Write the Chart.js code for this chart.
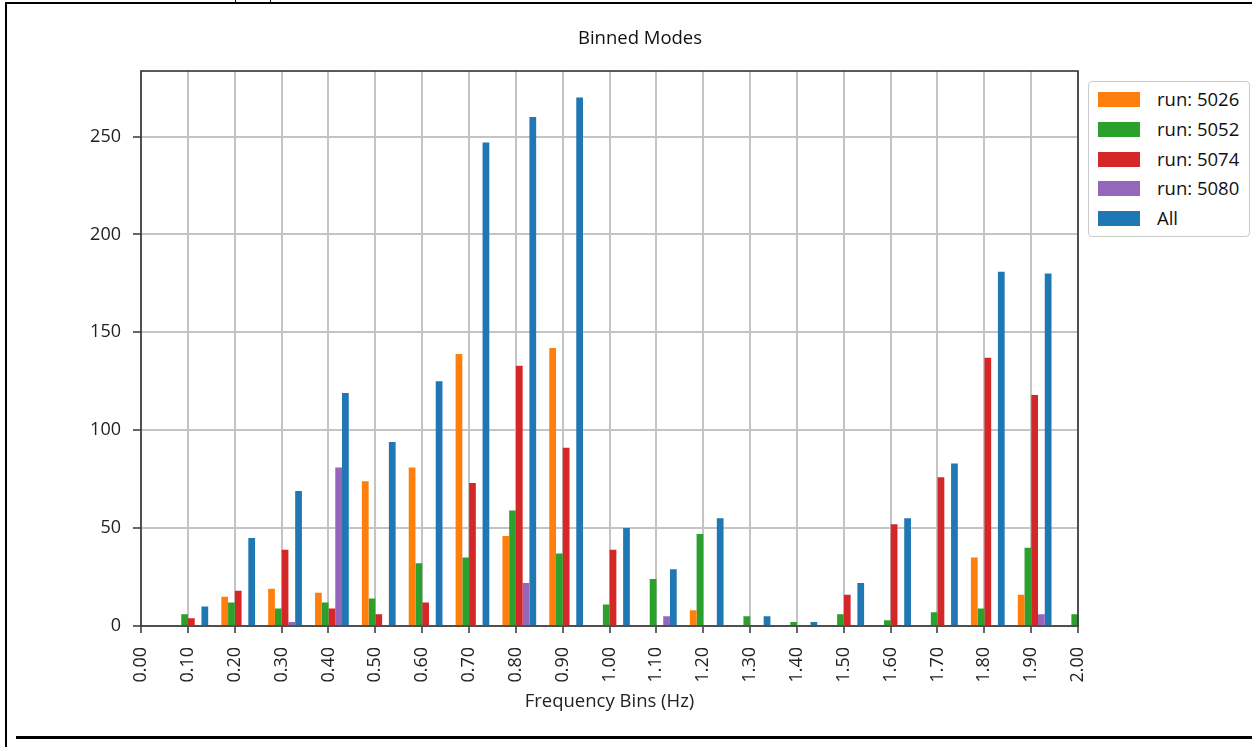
<!DOCTYPE html>
<html>
<head>
<meta charset="utf-8">
<title>Binned Modes</title>
<script src="https://cdn.jsdelivr.net/npm/chart.js@4.4.1/dist/chart.umd.min.js"></script>
<style>
    html, body { margin: 0; padding: 0; background: #fff; }
    body { width: 1252px; height: 747px; position: relative; overflow: hidden; font-family: 'Open Sans', sans-serif; }
    canvas { position: absolute; left: 0; top: 0; }
    .rule { position: absolute; background: #000; }
    #title { position: absolute; left: 0; top: 25px; width: 1280px; text-align: center; font-size: 18.5px; line-height: 24px; color: #111; }
    #legend { position: absolute; left: 1088px; top: 81px; width: 162px; height: 156px; box-sizing: border-box;
              border: 1px solid #ccc; border-radius: 4px; background: #fff; }
    .item { position: absolute; left: 0; height: 20px; width: 160px; }
    .swatch { position: absolute; left: 9px; top: 2px; width: 42px; height: 15px; }
    .label { position: absolute; left: 68px; top: -3px; font-size: 18.5px; line-height: 24px; color: #111; white-space: nowrap; }
</style>
</head>
<body>
<div class="rule" style="left:5px; top:2px; width:1247px; height:2px;"></div>
<div class="rule" style="left:5px; top:2px; width:2px; height:745px;"></div>
<div class="rule" style="left:16px; top:736px; width:1236px; height:3px;"></div>
<div class="rule" style="left:235px; top:0; width:1px; height:3px;"></div>
<div class="rule" style="left:270px; top:0; width:1px; height:3px;"></div>

<canvas id="modesChart" width="1252" height="747"></canvas>
<div id="title">Binned Modes</div>
<div id="legend"></div>

<script>
// frequency bins (Hz), one group of bars per tick
const binLabels = ['0.00', '0.10', '0.20', '0.30', '0.40', '0.50', '0.60', '0.70', '0.80', '0.90', '1.00',
                   '1.10', '1.20', '1.30', '1.40', '1.50', '1.60', '1.70', '1.80', '1.90', '2.00'];

// mode counts per bin
const run5026 = [0, 0, 15, 19, 17, 74, 81, 139, 46, 142, 0, 0, 8, 0, 0, 0, 0, 0, 35, 16, 0];
const run5052 = [0, 6, 12, 9, 12, 14, 32, 35, 59, 37, 11, 24, 47, 5, 2, 6, 3, 7, 9, 40, 6];
const run5074 = [0, 4, 18, 39, 9, 6, 12, 73, 133, 91, 39, 0, 0, 0, 0, 16, 52, 76, 137, 118, 0];
const run5080 = [0, 0, 0, 2, 81, 0, 0, 0, 22, 0, 0, 5, 0, 0, 0, 0, 0, 0, 0, 6, 0];
const allRuns = [0, 10, 45, 69, 119, 94, 125, 247, 260, 270, 50, 29, 55, 5, 2, 22, 55, 83, 181, 180, 6];

const seriesNames = ['run: 5026', 'run: 5052', 'run: 5074', 'run: 5080', 'All'];
const seriesColors = ['#ff7f0e', '#2ca02c', '#d62728', '#9467bd', '#1f77b4'];
const seriesValues = [run5026, run5052, run5074, run5080, allRuns];

const yTop = 283.5;
const yStep = 50;

const font = 'Open Sans';
const textColor = '#222';

// bar groups sit a little right of their tick in the original, then a black box round the plot area
const frame = {
    id: 'frame',
    beforeDatasetsDraw(chart) {
        chart.ctx.save();
        chart.ctx.translate(3.5, 0);
    },
    afterDatasetsDraw(chart) {
        const { ctx, chartArea: a } = chart;
        ctx.restore();
        ctx.save();
        ctx.strokeStyle = '#333';
        ctx.lineWidth = 1.6;
        ctx.strokeRect(a.left, a.top, a.right - a.left, a.bottom - a.top);
        ctx.restore();
    }
};

const chart = new Chart(document.getElementById('modesChart'), {
    type: 'bar',
    data: {
        labels: binLabels,
        datasets: seriesNames.map((name, i) => ({
            label: name,
            data: seriesValues[i],
            backgroundColor: seriesColors[i],
            borderWidth: 0,
            barPercentage: 1.0,
            categoryPercentage: 0.72,
            clip: 0
        }))
    },
    options: {
        responsive: false,
        animation: false,
        devicePixelRatio: 1,
        layout: { padding: { left: 0, right: 174, top: 71, bottom: 30 } },
        plugins: {
            legend: { display: false },
            title: { display: false },
            tooltip: { enabled: false }
        },
        scales: {
            x: {
                offset: false,
                grid: {
                    offset: false,
                    color: '#c4c4c4',
                    lineWidth: 2,
                    tickColor: '#333',
                    tickWidth: 1.5,
                    tickLength: 7
                },
                border: { display: false },
                ticks: {
                    autoSkip: false,
                    minRotation: 90,
                    maxRotation: 90,
                    padding: 14,
                    color: textColor,
                    font: { family: font, size: 18 }
                },
                title: {
                    display: true,
                    text: 'Frequency Bins (Hz)',
                    color: textColor,
                    font: { family: font, size: 18.5 },
                    padding: { top: 0, bottom: 4 }
                },
                afterFit(scale) { scale.height = 91; }
            },
            y: {
                min: 0,
                max: yTop,
                grid: {
                    color: '#c4c4c4',
                    lineWidth: 2,
                    tickColor: '#333',
                    tickWidth: 1.5,
                    tickLength: 8
                },
                border: { display: false },
                ticks: {
                    stepSize: yStep,
                    includeBounds: false,
                    padding: 12,
                    color: textColor,
                    font: { family: font, size: 18 }
                },
                afterFit(scale) { scale.width = 141; }
            }
        }
    },
    plugins: [frame]
});

// legend in a rounded box, built from the same series
const legend = document.getElementById('legend');
chart.data.datasets.forEach((ds, i) => {
    const item = document.createElement('div');
    item.className = 'item';
    item.style.top = (8 + i * 29.8) + 'px';
    item.innerHTML = '<span class="swatch" style="background:' + ds.backgroundColor + '"></span>' +
                     '<span class="label">' + ds.label + '</span>';
    legend.appendChild(item);
});
</script>
</body>
</html>
